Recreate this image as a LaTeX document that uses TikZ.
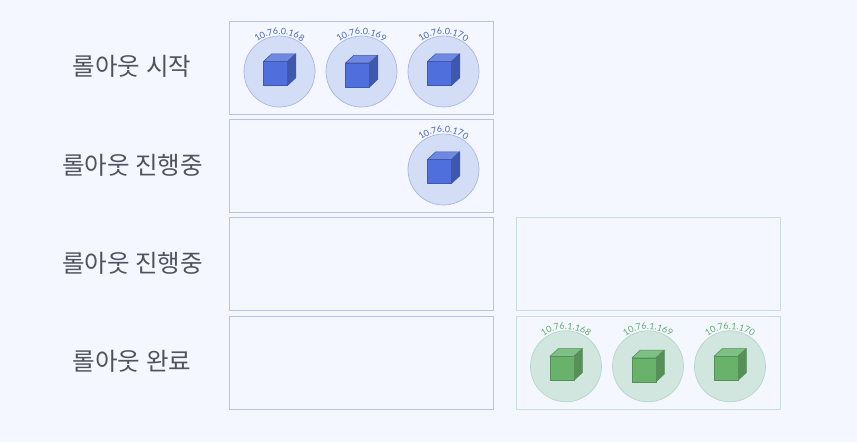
\documentclass[tikz,border=0pt]{standalone}
\usepackage{fontspec}
\setmainfont{Lato}
\newfontfamily\krfont{Noto Sans CJK KR}
\usetikzlibrary{decorations.text}
\definecolor{bgc}{HTML}{F4F7FF}
\definecolor{lblc}{HTML}{50535F}
\definecolor{bluebox}{HTML}{B8C3E8}
\definecolor{greenbox}{HTML}{C8E0D6}
\definecolor{bluefill}{HTML}{D3DDF5}
\definecolor{blueline}{HTML}{A9B8E3}
\definecolor{bluetext}{HTML}{4A69BD}
\definecolor{bluefront}{HTML}{4E6FDC}
\definecolor{bluetop}{HTML}{6F88E0}
\definecolor{blueside}{HTML}{3F58AE}
\definecolor{greenfill}{HTML}{D2E6E0}
\definecolor{greenline}{HTML}{B4D7C6}
\definecolor{greentext}{HTML}{62AE6C}
\definecolor{greenfront}{HTML}{69B26B}
\definecolor{greentop}{HTML}{7DBF85}
\definecolor{greenside}{HTML}{568F58}
\tikzset{
  x=1pt,y=-1pt,
  stage/.style={draw=#1,line width=0.8pt,fill=bgc,rectangle,inner sep=0pt,minimum width=264pt,minimum height=93pt,anchor=north west},
  rowlabel/.style={font=\krfont\fontsize{24.5}{28}\selectfont,text=lblc,anchor=center},
  podc/.style={circle,draw=#1line,fill=#1fill,line width=0.7pt,minimum size=71pt,inner sep=0pt},
}
% #1 name, #2 x, #3 y, #4 colour prefix, #5 ip, #6 cube x offset, #7 cube y offset
\newcommand{\podat}[7]{
  \node[podc=#4] (#1) at (#2,#3) {};
  \begin{scope}[shift={(#1.center)},line join=round,line width=0.6pt]
    \begin{scope}[xshift=#6pt,yshift=-#7pt]
    \filldraw[draw=#4side,fill=#4top] (-16,-10) -- (-7.7,-17.7) -- (16.3,-17.7) -- (8,-10) -- cycle;
    \filldraw[draw=#4side,fill=#4side] (8,-10) -- (16.3,-17.7) -- (16.3,6.3) -- (8,14) -- cycle;
    \filldraw[draw=#4side,fill=#4front] (-16,-10) rectangle (8,14);
    \end{scope}
    \path[postaction={decorate},decoration={text along path,text align=center,
      text={|\fontsize{9}{10}\selectfont\color{#4text}|#5}}]
      (-36.8,-3.9) arc[start angle=186,end angle=354,radius=37];
  \end{scope}
}
\begin{document}
\begin{tikzpicture}
\useasboundingbox[fill=bgc] (0,0) rectangle (857,442);
\node[stage=bluebox] (s1) at (229,20.7) {};
\node[stage=bluebox] (s2) at (229,119) {};
\node[stage=bluebox] (s3) at (229,217.3) {};
\node[stage=bluebox] (s4) at (229,315.7) {};
\node[stage=greenbox] (g3) at (516,217.3) {};
\node[stage=greenbox] (g4) at (516,315.7) {};
\node[rowlabel] (l1) at (132,66) {롤아웃 시작};
\node[rowlabel] (l2) at (132.5,165) {롤아웃 진행중};
\node[rowlabel] (l3) at (132.5,263) {롤아웃 진행중};
\node[rowlabel] (l4) at (132,361) {롤아웃 완료};
\podat{a}{279.5}{71.5}{blue}{10.76.0.168}{0}{0}
\podat{b}{361.5}{71.5}{blue}{10.76.0.169}{0}{1.5}
\podat{c}{443.5}{71.5}{blue}{10.76.0.170}{0}{0}
\podat{d}{443.5}{169.5}{blue}{10.76.0.170}{0}{0}
\podat{e}{566}{366.3}{green}{10.76.1.168}{0}{0}
\podat{f}{648}{366.3}{green}{10.76.1.169}{0}{1.5}
\podat{g}{730}{366.3}{green}{10.76.1.170}{0}{0}
\end{tikzpicture}
\end{document}
